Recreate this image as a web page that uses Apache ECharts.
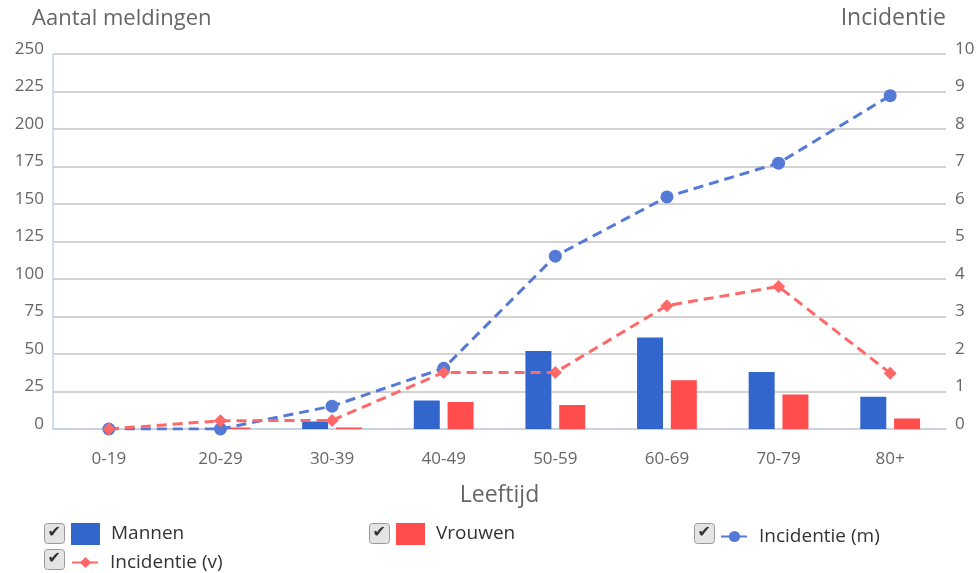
<!DOCTYPE html>
<html>
<head>
<meta charset="utf-8">
<script src="https://cdn.jsdelivr.net/npm/echarts@6/dist/echarts.min.js"></script>
<style>
  html, body { margin: 0; padding: 0; background: #fff; }
  #chart { width: 979px; height: 573px; }
</style>
</head>
<body>
<div id="chart"></div>
<script>
// leeftijdsgroepen
var categories = ['0-19', '20-29', '30-39', '40-49', '50-59', '60-69', '70-79', '80+'];
// aantal meldingen
var mannen = [0, 0, 5, 19, 52, 61, 38, 21.5];
var vrouwen = [0, 1, 1, 18, 16, 32.5, 23, 7];
// incidentie
var incidentieM = [0, 0, 0.61, 1.62, 4.61, 6.19, 7.09, 8.89];
var incidentieV = [0, 0.22, 0.23, 1.51, 1.51, 3.29, 3.8, 1.49];

var FONT = '"Open Sans", "Noto Sans", sans-serif';
var AXIS_BLUE = '#c3d3e4';

var chart = echarts.init(document.getElementById('chart'));

// vinkjes voor de legenda
function checkbox(x, y) {
  return {
    type: 'group', left: x, top: y,
    children: [{
      type: 'rect',
      shape: { x: 0, y: 0, width: 20, height: 20, r: 3 },
      style: { fill: '#e4e4e4', stroke: '#9a9a9a', lineWidth: 1 }
    }, {
      type: 'text',
      x: 3, y: 1,
      style: { text: '\u2714', fill: '#333', font: '16px "DejaVu Sans"' }
    }]
  };
}

function legendAt(name, left, top, w, h, icon) {
  return {
    data: [{ name: name, icon: icon }], left: left, top: top,
    padding: 0,
    itemWidth: w, itemHeight: h,
    selectedMode: false,
    textStyle: { fontFamily: FONT, fontSize: 19, color: '#333', padding: [0, 0, 0, 6] }
  };
}

chart.setOption({
  animation: false,
  grid: { left: 53, right: 33, top: 54, bottom: 144 },
  legend: [
    legendAt('Mannen', 71, 523, 29, 22, 'rect'),
    legendAt('Vrouwen', 396, 523, 29, 22, 'rect'),
    legendAt('Incidentie (m)', 720, 527, 27, 14),
    legendAt('Incidentie (v)', 71, 553, 27, 14)
  ],
  graphic: [checkbox(44, 523), checkbox(369, 523), checkbox(694, 523), checkbox(44, 549)],
  xAxis: {
    type: 'category',
    data: categories,
    name: 'Leeftijd',
    nameLocation: 'middle',
    nameGap: 55,
    nameTextStyle: { fontFamily: FONT, fontSize: 23, color: '#666' },
    axisLine: { lineStyle: { color: AXIS_BLUE, width: 1.5 } },
    axisTick: { length: 17, lineStyle: { color: AXIS_BLUE, width: 1.5 } },
    axisLabel: { fontFamily: FONT, fontSize: 17, color: '#666', margin: 22 }
  },
  yAxis: [{
    type: 'value',
    min: 0, max: 250, interval: 25,
    name: 'Aantal meldingen',
    nameGap: 24,
    nameTextStyle: { fontFamily: FONT, fontSize: 22, color: '#666', align: 'left', padding: [0, 0, 0, -21] },
    axisLine: { show: true, lineStyle: { color: AXIS_BLUE, width: 1.5 } },
    axisTick: { show: false },
    axisLabel: { fontFamily: FONT, fontSize: 17, color: '#666', margin: 9, verticalAlign: 'bottom', lineHeight: 10 },
    splitLine: { lineStyle: { color: '#c4c4c4', width: 1.5 } }
  }, {
    type: 'value',
    min: 0, max: 10, interval: 1,
    name: 'Incidentie',
    nameGap: 24,
    nameTextStyle: { fontFamily: FONT, fontSize: 23, color: '#666', align: 'right' },
    axisLine: { show: false },
    axisTick: { show: false },
    axisLabel: { fontFamily: FONT, fontSize: 17, color: '#666', margin: 9, verticalAlign: 'bottom', lineHeight: 10 },
    splitLine: { show: false }
  }],
  series: [{
    name: 'Mannen',
    type: 'bar',
    data: mannen,
    barWidth: 26,
    barGap: '30%',
    itemStyle: { color: '#3366cc' }
  }, {
    name: 'Vrouwen',
    type: 'bar',
    data: vrouwen,
    barWidth: 26,
    itemStyle: { color: '#ff4d4d' }
  }, {
    name: 'Incidentie (m)',
    type: 'line',
    yAxisIndex: 1,
    data: incidentieM,
    symbol: 'circle',
    symbolSize: 13,
    lineStyle: { color: '#5479d6', width: 3, type: [10, 6] },
    itemStyle: { color: '#5479d6' }
  }, {
    name: 'Incidentie (v)',
    type: 'line',
    yAxisIndex: 1,
    data: incidentieV,
    symbol: 'diamond',
    symbolSize: 13,
    lineStyle: { color: '#ff6868', width: 3, type: [10, 6] },
    itemStyle: { color: '#ff6868' }
  }]
});
</script>
</body>
</html>
